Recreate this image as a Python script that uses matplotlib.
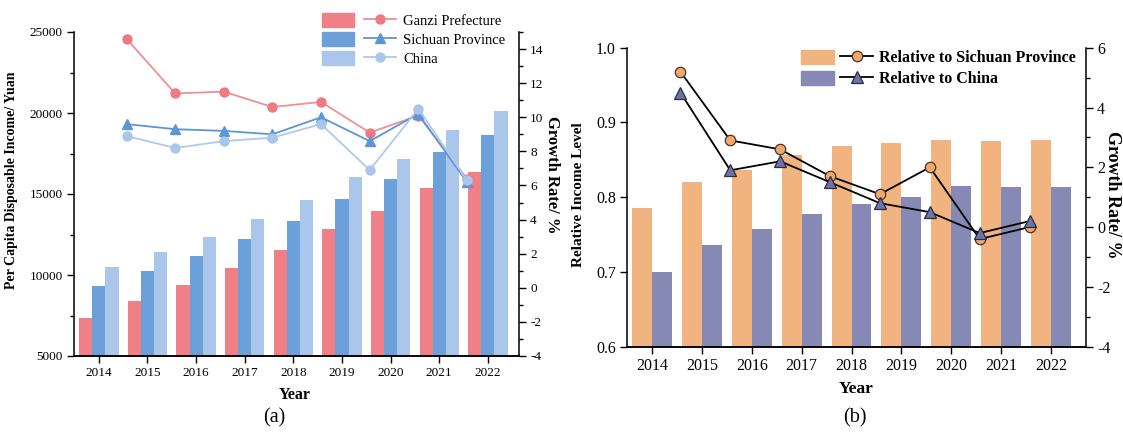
import numpy as np
import matplotlib.pyplot as plt
from matplotlib.patches import Patch
from matplotlib.legend_handler import HandlerTuple
from matplotlib.ticker import MultipleLocator

plt.rcParams['font.family'] = ['Liberation Serif', 'DejaVu Serif']
plt.rcParams['axes.unicode_minus'] = False

# Rural per capita disposable income (yuan) and its yearly growth (%)
years = [2014, 2015, 2016, 2017, 2018, 2019, 2020, 2021, 2022]
ganzi_income = [7330, 8410, 9370, 10460, 11560, 12820, 13980, 15390, 16370]
sichuan_income = [9348, 10247, 11203, 12227, 13331, 14670, 15929, 17575, 18672]
china_income = [10489, 11422, 12363, 13432, 14617, 16021, 17131, 18931, 20133]

# growth rates start in 2015
ganzi_growth = [14.6, 11.4, 11.5, 10.6, 10.9, 9.1, 10.1, 6.4]
sichuan_growth = [9.6, 9.3, 9.2, 9.0, 10.0, 8.6, 10.2, 6.2]
china_growth = [8.9, 8.2, 8.6, 8.8, 9.6, 6.9, 10.5, 6.3]

# Ganzi income relative to Sichuan and to China, and growth of those ratios (%)
rel_sichuan = [0.785, 0.821, 0.836, 0.856, 0.868, 0.873, 0.877, 0.875, 0.877]
rel_china = [0.700, 0.736, 0.757, 0.778, 0.791, 0.800, 0.815, 0.813, 0.813]
rel_sichuan_growth = [5.2, 2.9, 2.6, 1.7, 1.1, 2.0, -0.4, 0.0]
rel_china_growth = [4.5, 1.9, 2.2, 1.5, 0.8, 0.5, -0.2, 0.2]

W, H = 1123, 432
fig = plt.figure(figsize=(W / 100, H / 100), dpi=100)


def px_axes(left, top, right, bottom):
    """Axes placed from pixel edges."""
    return fig.add_axes([left / W, 1 - bottom / H, (right - left) / W, (bottom - top) / H])


def style(ax, size):
    ax.spines['top'].set_visible(False)
    for s in ax.spines.values():
        s.set_linewidth(1.1)
    ax.tick_params(which='major', direction='out', length=5, width=1, labelsize=size, pad=3)
    ax.tick_params(which='minor', direction='out', length=3, width=1)


x = np.arange(len(years))
xg = np.arange(1, len(years)) - 0.43

# ---------------- (a) income bars + growth lines ----------------
ax1 = px_axes(74, 32, 519, 356)
bw = 0.27
ax1.bar(x - bw, ganzi_income, bw, color='#F08088')
ax1.bar(x, sichuan_income, bw, color='#6BA0DA')
ax1.bar(x + bw, china_income, bw, color='#AAC6EA')
ax1.set_ylim(5000, 25000)
ax1.set_xlim(-0.51, 8.64)
ax1.set_xticks(x)
ax1.set_xticklabels(years)
ax1.yaxis.set_major_locator(MultipleLocator(5000))
ax1.yaxis.set_minor_locator(MultipleLocator(2500))
style(ax1, 9.5)
ax1.spines['right'].set_visible(False)
ax1.set_ylabel('Per Capita Disposable Income/ Yuan', fontsize=10, fontweight='bold')
ax1.yaxis.set_label_coords(-0.126, 0.543)
ax1.set_xlabel('Year', fontsize=11.5, fontweight='bold')
ax1.xaxis.set_label_coords(0.4955, -0.096)

ax2 = ax1.twinx()
l_g, = ax2.plot(xg, ganzi_growth, color='#EE9096', lw=1.3, marker='o', ms=6.5,
                mfc='#EE7A83', mec='#EE7A83')
l_s, = ax2.plot(xg, sichuan_growth, color='#5D96D6', lw=1.3, marker='^', ms=7,
                mfc='#5D96D6', mec='#5D96D6')
l_c, = ax2.plot(xg, china_growth, color='#AFC9EC', lw=1.3, marker='o', ms=6.5,
                mfc='#AAC6EA', mec='#AAC6EA')
ax2.set_ylim(-4, 15)
ax2.yaxis.set_major_locator(MultipleLocator(2))
ax2.yaxis.set_minor_locator(MultipleLocator(1))
style(ax2, 9.5)
ax2.spines['left'].set_visible(False)
ax2.set_ylabel('Growth Rate/ %', fontsize=12, fontweight='bold', rotation=270, va='center')
ax2.yaxis.set_label_coords(1.074, 0.559)

handles_a = [(Patch(color='#F08088'), l_g), (Patch(color='#6BA0DA'), l_s),
             (Patch(color='#AAC6EA'), l_c)]
ax2.legend(handles_a, ['Ganzi Prefecture', 'Sichuan Province', 'China'],
           handler_map={tuple: HandlerTuple(ndivide=None, pad=0.7)},
           loc='upper left', bbox_to_anchor=(322 / W, 1 - 13 / H), bbox_transform=fig.transFigure,
           frameon=False, fontsize=10.5, handlelength=5.1, handleheight=1.1,
           handletextpad=0.45, labelspacing=0.27, borderpad=0, borderaxespad=0)

# ---------------- (b) relative income level ----------------
ax3 = px_axes(627, 47.7, 1086, 346.7)
bw2 = 0.4
ax3.bar(x - bw2 / 2, rel_sichuan, bw2, color='#F1B380')
ax3.bar(x + bw2 / 2, rel_china, bw2, color='#8589B3')
ax3.set_ylim(0.6, 1.0)
ax3.set_xlim(-0.5, 8.7)
ax3.set_xticks(x)
ax3.set_xticklabels(years)
ax3.yaxis.set_major_locator(MultipleLocator(0.1))
ax3.yaxis.set_major_formatter(plt.FormatStrFormatter('%.1f'))
style(ax3, 11.5)
ax3.spines['right'].set_visible(False)
ax3.set_ylabel('Relative Income Level', fontsize=11, fontweight='bold')
ax3.yaxis.set_label_coords(-0.0915, 0.507)
ax3.set_xlabel('Year', fontsize=12.5, fontweight='bold')
ax3.xaxis.set_label_coords(0.499, -0.115)

ax4 = ax3.twinx()
l_rs, = ax4.plot(xg, rel_sichuan_growth, color='black', lw=1.3, marker='o', ms=7.5,
                 mfc='#F0A86E', mec='#4A3320', mew=0.9)
l_rc, = ax4.plot(xg, rel_china_growth, color='black', lw=1.3, marker='^', ms=8,
                 mfc='#6F74A6', mec='#2A2A40', mew=0.9)
ax4.set_ylim(-4, 6)
ax4.yaxis.set_major_locator(MultipleLocator(2))
ax4.yaxis.set_minor_locator(MultipleLocator(1))
style(ax4, 11.5)
ax4.spines['left'].set_visible(False)
ax4.set_ylabel('Growth Rate/ %', fontsize=13, fontweight='bold', rotation=270, va='center')
ax4.yaxis.set_label_coords(1.057, 0.507)

handles_b = [(Patch(color='#F1B380'), l_rs), (Patch(color='#8589B3'), l_rc)]
ax4.legend(handles_b, ['Relative to Sichuan Province', 'Relative to China'],
           handler_map={tuple: HandlerTuple(ndivide=None, pad=0.4)},
           loc='upper left', bbox_to_anchor=(801 / W, 1 - 50 / H), bbox_transform=fig.transFigure,
           frameon=False, prop={'size': 11.5, 'weight': 'bold'}, handlelength=4.5,
           handleheight=0.95, handletextpad=0.4, labelspacing=0.28, borderpad=0, borderaxespad=0)

fig.text(274 / W, 1 - 418 / H, '(a)', fontsize=14.5, ha='center', va='center')
fig.text(855 / W, 1 - 418 / H, '(b)', fontsize=14.5, ha='center', va='center')

fig.savefig('out.png', dpi=100)
